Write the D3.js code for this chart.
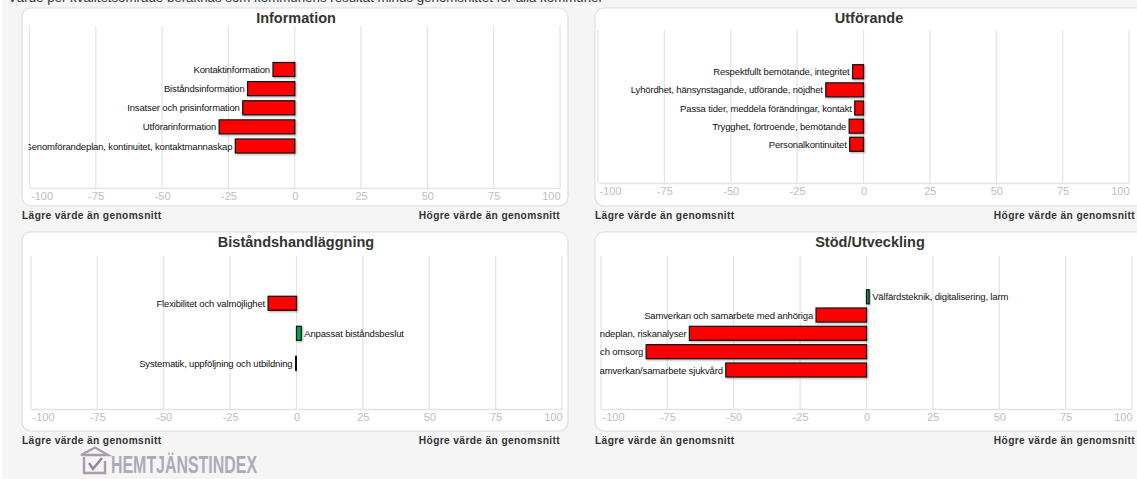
<!DOCTYPE html>
<html lang="sv">
<head>
<meta charset="utf-8">
<script src="https://cdn.jsdelivr.net/npm/d3@7/dist/d3.min.js"></script>
<style>
html,body{margin:0;padding:0;background:#fff;overflow:hidden}
svg{display:block;font-family:"Liberation Sans",Arial,sans-serif}
</style>
</head>
<body>
<svg id="c" width="1137" height="479"></svg>
<script>
const introText = "Värde per kvalitetsområde beräknas som kommunens resultat minus genomsnittet för alla kommuner";
const lowerLabel = "Lägre värde än genomsnitt";
const higherLabel = "Högre värde än genomsnitt";
const logoText = "HEMTJÄNSTINDEX";
const tickValues = [-100, -75, -50, -25, 0, 25, 50, 75, 100];

const infoTitle = "Information";
const infoCats = ["Kontaktinformation", "Biståndsinformation", "Insatser och prisinformation", "Utförarinformation", "Genomförandeplan, kontinuitet, kontaktmannaskap"];
const infoVals = [-8.2, -17.8, -19.6, -28.5, -22.4];

const utfTitle = "Utförande";
const utfCats = ["Respektfullt bemötande, integritet", "Lyhördhet, hänsynstagande, utförande, nöjdhet", "Passa tider, meddela förändringar, kontakt", "Trygghet, förtroende, bemötande", "Personalkontinuitet"];
const utfVals = [-4.1, -14.2, -3.3, -5.4, -5.2];

const bisTitle = "Biståndshandläggning";
const bisCats = ["Flexibilitet och valmöjlighet", "Anpassat biståndsbeslut", "Systematik, uppföljning och utbildning"];
const bisVals = [-10.7, 1.8, -0.4];

const stodTitle = "Stöd/Utveckling";
const stodCats = ["Välfärdsteknik, digitalisering, larm", "Samverkan och samarbete med anhöriga", "Genomförandeplan, riskanalyser", "och omsorg", "Samverkan/samarbete sjukvård"];
const stodVals = [1, -19, -66.7, -83, -53];

const panels = [
  {title: infoTitle, cats: infoCats, vals: infoVals, card: [22, 8, 568, 206], x: [29.5, 560], y: [26, 188], first: 69.5, last: 146, titleX: 296, titleY: 23},
  {title: utfTitle, cats: utfCats, vals: utfVals, card: [595, 8, 1160, 206], x: [598, 1129], y: [30, 183], first: 71.7, last: 144.3, titleX: 869, titleY: 23},
  {title: bisTitle, cats: bisCats, vals: bisVals, card: [22, 232, 568, 431], x: [31, 562], y: [256, 409], first: 303.3, last: 363.3, titleX: 296, titleY: 247},
  {title: stodTitle, cats: stodCats, vals: stodVals, card: [595, 232, 1160, 431], x: [601, 1132], y: [256, 409], first: 296.7, last: 370, titleX: 870, titleY: 247}
];

const svg = d3.select("#c");
const defs = svg.append("defs");
const shadow = defs.append("filter").attr("id", "barShadow")
  .attr("x", "-30%").attr("y", "-30%").attr("width", "170%").attr("height", "170%");
shadow.append("feDropShadow").attr("dx", 1).attr("dy", 1).attr("stdDeviation", 1)
  .attr("flood-color", "#000").attr("flood-opacity", 0.35);

svg.append("rect").attr("x", 2).attr("y", 0).attr("width", 1135).attr("height", 479).attr("fill", "#f5f5f5");

svg.append("text").attr("x", 8).attr("y", 2).attr("font-size", 13.3).attr("fill", "#333").text(introText);

panels.forEach((p, i) => {
  const [cl, ct, cr, cb] = p.card;
  svg.append("rect").attr("x", cl).attr("y", ct).attr("width", cr - cl).attr("height", cb - ct)
    .attr("rx", 9).attr("fill", "#fff").attr("stroke", "#dedede").attr("stroke-width", 1.2);

  const x = d3.scaleLinear().domain([-100, 100]).range(p.x);
  const y = d3.scalePoint().domain(p.cats).range([p.first, p.last]);
  const clipId = "clip" + i;
  defs.append("clipPath").attr("id", clipId).append("rect")
    .attr("x", p.x[0] - 1).attr("y", p.y[0]).attr("width", p.x[1] - p.x[0] + 1).attr("height", p.y[1] - p.y[0]);

  svg.append("text").attr("x", p.titleX).attr("y", p.titleY)
    .attr("text-anchor", "middle").attr("font-size", 14.5).attr("font-weight", "bold").attr("fill", "#333").text(p.title);

  const axis = d3.axisBottom(x).tickValues(tickValues).tickSize(0).tickPadding(4).tickFormat(d => String(d));
  const gA = svg.append("g").attr("transform", `translate(0,${p.y[1]})`).call(axis);
  gA.select(".domain").attr("stroke", "#e3e3e3").attr("stroke-width", 1.5);
  gA.selectAll("text").attr("font-size", 11).attr("fill", "#bdbdbd").attr("font-family", "inherit")
    .attr("text-anchor", d => d === -100 ? "start" : d === 100 ? "end" : "middle")
    .attr("dx", d => d === -100 ? 1 : 0);

  svg.append("g").selectAll("line").data(tickValues).join("line")
    .attr("x1", d => x(d)).attr("x2", d => x(d)).attr("y1", p.y[0]).attr("y2", p.y[1])
    .attr("stroke", "#e3e3e3").attr("stroke-width", 1.2);

  svg.append("g").selectAll("rect").data(p.vals).join("rect")
    .attr("x", d => Math.min(x(0), x(d)))
    .attr("width", d => Math.abs(x(d) - x(0)))
    .attr("y", (d, k) => y(p.cats[k]) - 7)
    .attr("height", 14)
    .attr("fill", d => d < 0 ? "#ff0000" : "#00a651")
    .attr("stroke", "#111").attr("stroke-width", 1.2)
    .attr("filter", "url(#barShadow)");

  svg.append("g").attr("clip-path", `url(#${clipId})`).selectAll("text").data(p.vals).join("text")
    .attr("x", d => d < 0 ? x(d) - 3 : x(d) + 3)
    .attr("y", (d, k) => y(p.cats[k]) + 3.5)
    .attr("text-anchor", d => d < 0 ? "end" : "start")
    .attr("font-size", 9.5).attr("letter-spacing", -0.15).attr("fill", "#111")
    .text((d, k) => p.cats[k]);

  const capY = cb + 12.5;
  svg.append("text").attr("x", cl).attr("y", capY).attr("font-size", 10.2).attr("font-weight", "bold")
    .attr("letter-spacing", 0.37).attr("fill", "#333").text(lowerLabel);
  svg.append("text").attr("x", i % 2 ? 1135 : 560).attr("y", capY).attr("text-anchor", "end").attr("font-size", 10.2)
    .attr("font-weight", "bold").attr("letter-spacing", 0.37).attr("fill", "#333").text(higherLabel);
});

// logo
const logo = svg.append("g").attr("fill", "none").attr("stroke", "#a79dae").attr("stroke-width", 2.4);
logo.append("path").attr("d", "M81 455 L95 447.5 L108 455 Z");
logo.append("path").attr("d", "M84 457 V473 H105 V461");
logo.append("path").attr("d", "M89 463 L93 469 L102 458").attr("stroke", "#8f8799");
svg.append("text").attr("x", 111).attr("y", 472.5).attr("font-size", 23.5).attr("font-weight", "bold")
  .attr("textLength", 146).attr("lengthAdjust", "spacingAndGlyphs")
  .attr("fill", "#acabb8").text(logoText);
</script>
</body>
</html>
